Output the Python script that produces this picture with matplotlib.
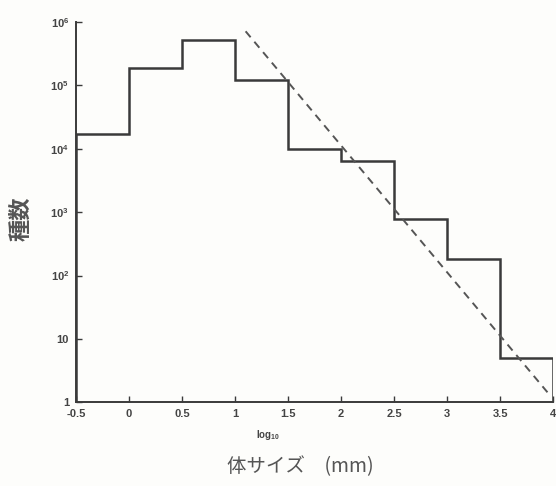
import numpy as np
import matplotlib.pyplot as plt

# size-class edges (log10 mm) and species counts per class
bin_edges = [-0.5, 0.0, 0.5, 1.0, 1.5, 2.0, 2.5, 3.0, 3.5, 4.0]
species_counts = [1.7e4, 1.9e5, 5.2e5, 1.2e5, 1.0e4, 6.5e3, 7.7e2, 1.8e2, 5.0]

# reference power law, slope -2
trend_x = [1.1, 3.97]
trend_y = [7.1e5, 1.3]

x_ticks = [-0.5, 0, 0.5, 1, 1.5, 2, 2.5, 3, 3.5, 4]
x_tick_labels = ["-0.5", "0", "0.5", "1", "1.5", "2", "2.5", "3", "3.5", "4"]
y_ticks = [1, 10, 1e2, 1e3, 1e4, 1e5, 1e6]
y_tick_labels = ["1", "10", r"$10^2$", r"$10^3$", r"$10^4$", r"$10^5$", r"$10^6$"]

plt.rcParams["font.family"] = ["Liberation Sans", "DejaVu Sans"]
plt.rcParams["mathtext.fontset"] = "custom"
plt.rcParams["mathtext.rm"] = "Liberation Sans:bold"
plt.rcParams["mathtext.it"] = "Liberation Sans:bold"

ink = "#3a3a3a"
fig = plt.figure(figsize=(5.56, 4.86), dpi=100, facecolor="#fdfdfb")
ax = fig.add_axes([0.1367, 0.172, 0.858, 0.783])
ax.set_facecolor("#fdfdfb")

ax.stairs(species_counts, bin_edges, baseline=1, color=ink, linewidth=1.8)
ax.plot(trend_x, trend_y, color="#555555", linewidth=1.4, linestyle=(0, (4, 3)))

ax.set_yscale("log")
ax.set_xlim(-0.5, 4)
ax.set_ylim(1, 1e6)
ax.set_xticks(x_ticks)
ax.set_xticklabels(x_tick_labels, fontsize=8, fontweight="bold", color="#444444")
ax.set_yticks(y_ticks)
ax.set_yticklabels(y_tick_labels, fontsize=8, fontweight="bold", color="#444444")
ax.minorticks_off()
ax.tick_params(direction="in", length=4, width=1, color=ink, pad=5)

for side in ("top", "right"):
    ax.spines[side].set_visible(False)
for side in ("left", "bottom"):
    ax.spines[side].set_color(ink)
    ax.spines[side].set_linewidth(1.4)

ax.text(1.31, -0.085, r"log$_{10}$", transform=ax.get_xaxis_transform(),
        ha="center", va="center", fontsize=7, fontweight="bold", color="#444444")

cjk = ["Noto Sans CJK JP", "DejaVu Sans"]
fig.text(0.038, 0.55, "種数", rotation=90, ha="center", va="center",
         fontsize=16, family=cjk, fontweight="bold", color="#555555")
fig.text(0.54, 0.04, "体サイズ　(mm)", ha="center", va="center",
         fontsize=14, family=cjk, color="#555555")

fig.savefig("out.png", dpi=100, facecolor=fig.get_facecolor())
